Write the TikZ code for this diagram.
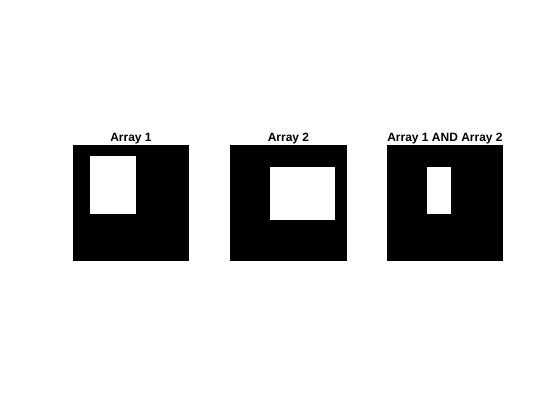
\documentclass[tikz,border=0pt]{standalone}
\usepackage{fontspec}
\setmainfont{Liberation Sans}
\begin{document}
\begin{tikzpicture}[x=1pt,y=-1pt,
  panel/.style={fill=black,draw=none},
  hole/.style={fill=white,draw=none},
  ttl/.style={anchor=base,inner sep=0pt,font=\fontsize{12}{14}\selectfont\bfseries}]
\useasboundingbox[fill=white] (0,0) rectangle (560,420);
% Panel 1
\fill[panel] (73,145) rectangle (189,261);
\fill[hole] (90,156) rectangle (136,214);
\node[ttl] (t1) at (131,141) {Array 1};
% Panel 2
\fill[panel] (230,145) rectangle (347,261);
\fill[hole] (270,167) rectangle (335,220);
\node[ttl] (t2) at (288.5,141) {Array 2};
% Panel 3
\fill[panel] (387,145) rectangle (503,261);
\fill[hole] (427,167) rectangle (451,214);
\node[ttl] (t3) at (445,141) {Array 1 AND Array 2};
\end{tikzpicture}
\end{document}
